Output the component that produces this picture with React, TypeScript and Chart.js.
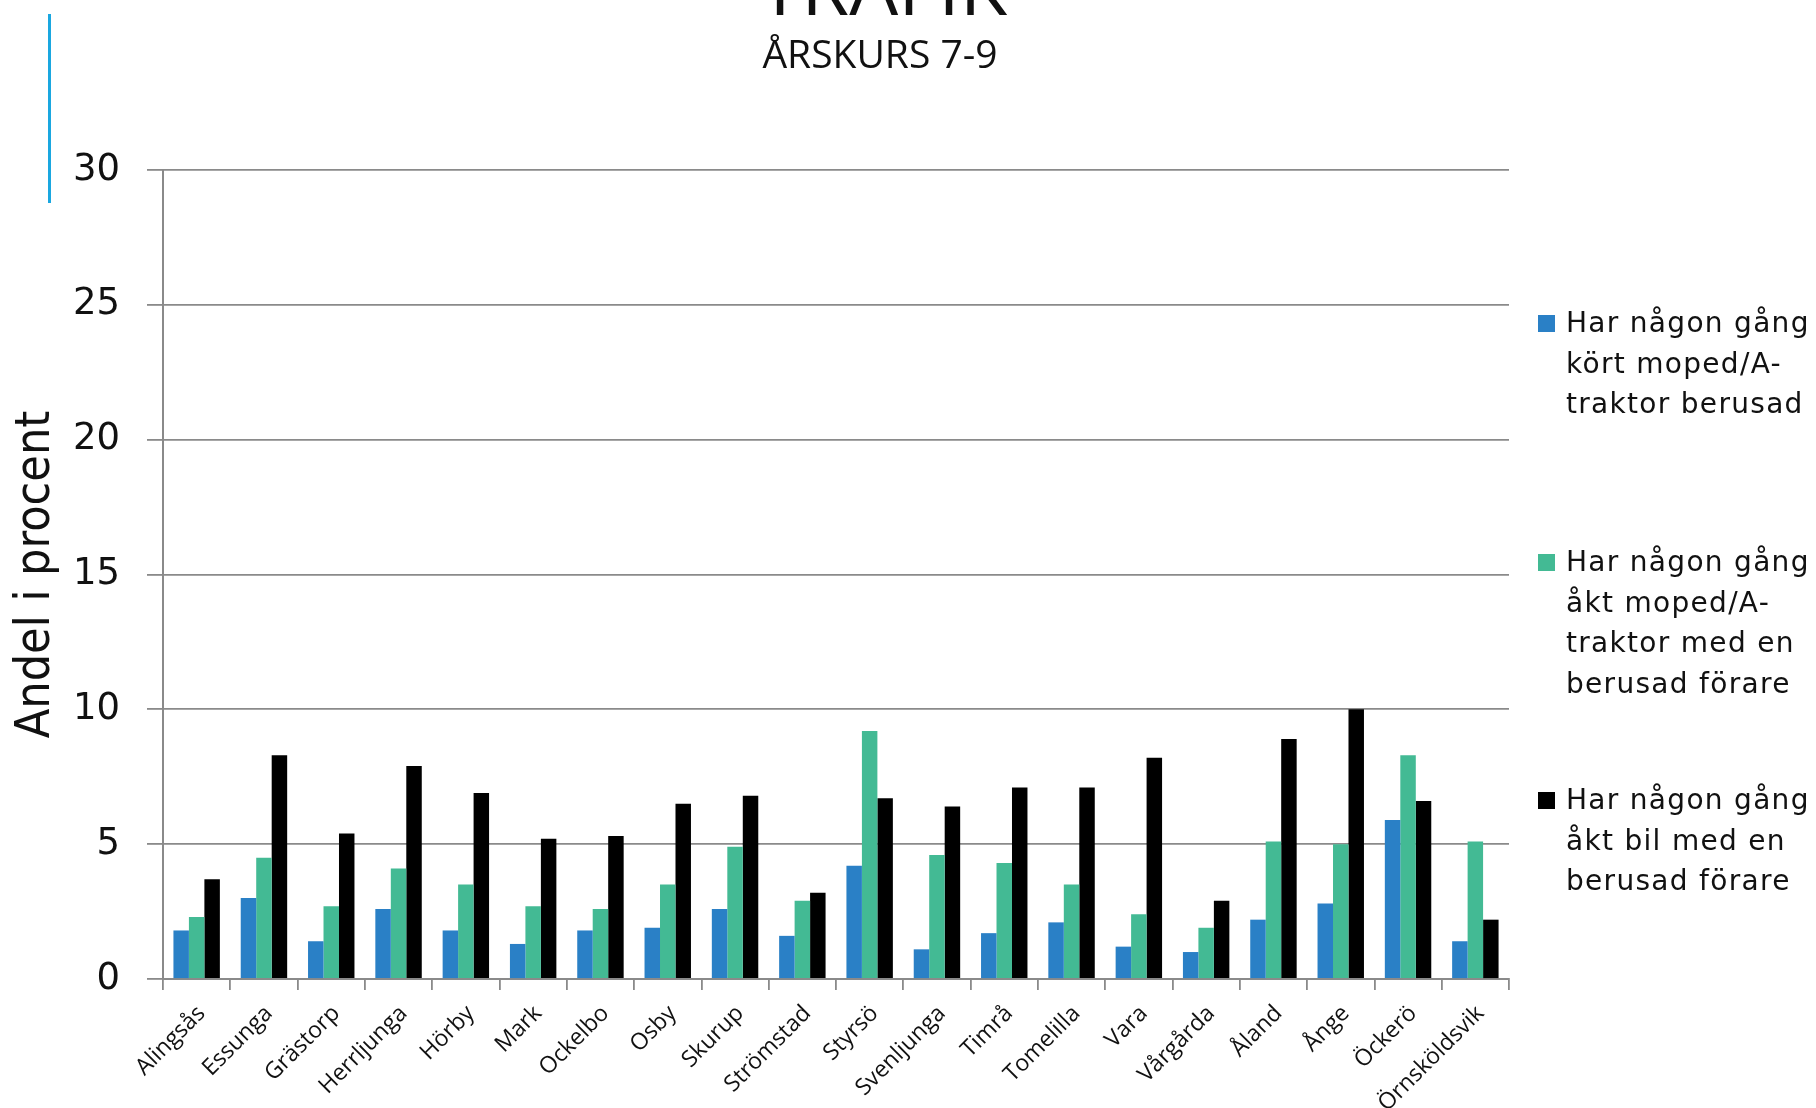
import React, { useEffect, useRef } from "react";
import { Chart, registerables } from "chart.js";

Chart.register(...registerables);

const categories = [
  "Alingsås", "Essunga", "Grästorp", "Herrljunga", "Hörby", "Mark", "Ockelbo",
  "Osby", "Skurup", "Strömstad", "Styrsö", "Svenljunga", "Timrå", "Tomelilla",
  "Vara", "Vårgårda", "Åland", "Ånge", "Öckerö", "Örnsköldsvik",
];

const seriesLabels = [
  "Har någon gång kört moped/A-traktor berusad",
  "Har någon gång åkt moped/A-traktor med en berusad förare",
  "Har någon gång åkt bil med en berusad förare",
];

const legendLines = [
  ["Har någon gång", "kört moped/A-", "traktor berusad"],
  ["Har någon gång", "åkt moped/A-", "traktor med en", "berusad förare"],
  ["Har någon gång", "åkt bil med en", "berusad förare"],
];

const kortMoped = [1.8, 3.0, 1.4, 2.6, 1.8, 1.3, 1.8, 1.9, 2.6, 1.6, 4.2, 1.1, 1.7, 2.1, 1.2, 1.0, 2.2, 2.8, 5.9, 1.4];
const aktMoped = [2.3, 4.5, 2.7, 4.1, 3.5, 2.7, 2.6, 3.5, 4.9, 2.9, 9.2, 4.6, 4.3, 3.5, 2.4, 1.9, 5.1, 5.0, 8.3, 5.1];
const aktBil = [3.7, 8.3, 5.4, 7.9, 6.9, 5.2, 5.3, 6.5, 6.8, 3.2, 6.7, 6.4, 7.1, 7.1, 8.2, 2.9, 8.9, 10.0, 6.6, 2.2];

const seriesColors = ["#2a80c6", "#43ba94", "#000000"];

const titleText = "TRAFIK";
const subtitleText = "ÅRSKURS 7-9";
const yAxisTitle = "Andel i procent";
const yMin = 0;
const yMax = 30;
const yStep = 5;

const W = 1816;
const H = 1108;
const AREA_LEFT = 163;
const AREA_RIGHT = 1509;
const AREA_TOP = 170;
const AREA_BOTTOM = 979;

export default function App() {
  const canvasRef = useRef<HTMLCanvasElement | null>(null);

  useEffect(() => {
    const canvas = canvasRef.current;
    if (!canvas) return;
    const gridColor = "#8a8a8a";
    const chart = new Chart(canvas, {
      type: "bar",
      data: {
        labels: categories,
        datasets: [kortMoped, aktMoped, aktBil].map((d, i) => ({
          label: seriesLabels[i],
          data: d,
          backgroundColor: seriesColors[i],
          borderWidth: 0,
          barPercentage: 1,
          categoryPercentage: 0.69,
        })),
      },
      options: {
        responsive: false,
        animation: false,
        layout: { padding: { top: AREA_TOP, right: W - AREA_RIGHT, bottom: 0, left: 0 } },
        plugins: {
          legend: { display: false },
          title: { display: false },
          tooltip: { enabled: false },
        },
        scales: {
          x: {
            offset: true,
            grid: {
              display: true,
              offset: true,
              drawOnChartArea: false,
              drawTicks: true,
              tickLength: 11,
              color: gridColor,
              lineWidth: 1.8,
            },
            border: { display: true, color: gridColor, width: 2 },
            ticks: {
              autoSkip: false,
              maxRotation: 45,
              minRotation: 45,
              padding: 10,
              labelOffset: 5,
              color: "#111",
              font: { family: "'Open Sans', sans-serif", size: 23 },
            },
            afterFit: (s: any) => {
              s.height = H - AREA_BOTTOM;
            },
          },
          y: {
            min: yMin,
            max: yMax,
            ticks: {
              stepSize: yStep,
              padding: 27,
              color: "#111",
              font: { family: "'DejaVu Sans', sans-serif", size: 37 },
            },
            grid: {
              color: gridColor,
              lineWidth: 1.8,
              tickLength: 16,
              drawTicks: true,
            },
            border: { display: true, color: gridColor, width: 2 },
            title: {
              display: true,
              text: yAxisTitle,
              color: "#111",
              padding: { top: 8, bottom: 0 },
              font: { family: "'DejaVu Sans Condensed', 'Liberation Sans Narrow', 'Open Sans', sans-serif", size: 48, weight: "normal" },
            },
            afterFit: (s: any) => {
              s.width = AREA_LEFT;
            },
          },
        },
      },
    });
    return () => chart.destroy();
  }, []);

  const legendTops = [303, 542, 780];

  return (
    <div style={{ position: "absolute", left: 0, top: 0, width: W, height: H, overflow: "hidden", background: "#fff" }}>
      <canvas ref={canvasRef} width={W} height={H} style={{ position: "absolute", left: 0, top: 0, width: W, height: H }} />
      <div style={{ position: "absolute", left: 48, top: 14, width: 3, height: 189, background: "#1aa7e0" }} />
      <div
        style={{
          position: "absolute",
          left: 0,
          width: 1766,
          top: -52,
          textAlign: "center",
          fontFamily: "'Open Sans', sans-serif",
          fontSize: 76,
          lineHeight: "76px",
          color: "#111",
          transform: "scaleX(1.02)",
          transformOrigin: "883px 0",
        }}
      >
        {titleText}
      </div>
      <div
        style={{
          position: "absolute",
          left: 0,
          width: 1760,
          top: 29,
          textAlign: "center",
          fontFamily: "'Open Sans', sans-serif",
          fontSize: 39,
          lineHeight: "48px",
          color: "#111",
          transform: "scaleX(1.0)",
          transformOrigin: "880px 0",
        }}
      >
        {subtitleText}
      </div>
      {legendLines.map((lines, i) => (
        <div key={i} style={{ position: "absolute", left: 1538, top: legendTops[i] }}>
          <div style={{ position: "absolute", left: 0, top: 12, width: 17, height: 17, background: seriesColors[i] }} />
          <div
            style={{
              position: "absolute",
              left: 28,
              top: 0,
              whiteSpace: "nowrap",
              fontFamily: "'DejaVu Sans', sans-serif",
              fontSize: 28,
              lineHeight: "40.5px",
              letterSpacing: "1.3px",
              color: "#111",
            }}
          >
            {lines.map((l, j) => (
              <div key={j}>{l}</div>
            ))}
          </div>
        </div>
      ))}
    </div>
  );
}
